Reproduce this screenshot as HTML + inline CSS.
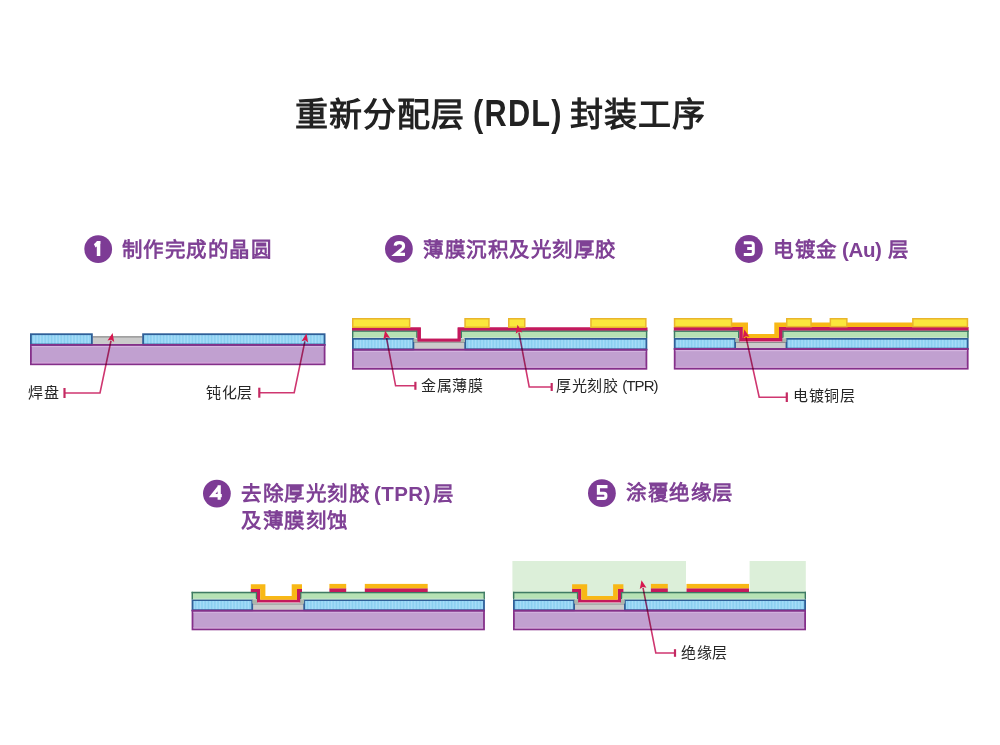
<!DOCTYPE html>
<html lang="zh-CN"><head><meta charset="utf-8">
<style>
html,body{margin:0;padding:0;background:#fff;}
body{width:1000px;height:745px;position:relative;overflow:hidden;font-family:"Liberation Sans",sans-serif;}
.t{position:absolute;white-space:nowrap;line-height:1;}
.title{font-size:33px;font-weight:bold;color:#222;letter-spacing:1.1px;}
.title.lat{font-size:37px;letter-spacing:1.5px;transform-origin:0 0;transform:scaleX(0.83);}
.hd{font-size:20.5px;font-weight:bold;color:#7f4195;letter-spacing:1.5px;}
.hd .lat{letter-spacing:1.15px;}
.lb{font-size:15px;color:#262626;letter-spacing:0.7px;}
.lb .lat{letter-spacing:-0.9px;margin-left:-1.5px;}
svg{position:absolute;left:0;top:0;}
</style></head><body>
<svg width="1000" height="745" viewBox="0 0 1000 745">
<defs>
<pattern id="stripes" patternUnits="userSpaceOnUse" width="3.2" height="10">
<rect width="3.2" height="10" fill="#97d6f5"/><rect x="0" width="0.9" height="10" fill="#88cdee"/><rect x="1.6" width="0.8" height="10" fill="#a8ddf8"/>
</pattern>
</defs>
<rect x="30.90" y="345.00" width="293.70" height="19.30" fill="#c1a0d0" stroke="#85308a" stroke-width="1.8"/>
<rect x="31.80" y="345.90" width="291.90" height="1.20" fill="#d5b5e0"/>
<rect x="31.80" y="362.00" width="291.90" height="1.40" fill="#cfa3d6"/>
<rect x="91.80" y="336.30" width="51.40" height="9.10" fill="#cbcbcb"/>
<line x1="92.8" y1="336.90000000000003" x2="142.2" y2="336.90000000000003" stroke="#8e8e8e" stroke-width="1.2"/>
<rect x="30.90" y="334.20" width="61.00" height="10.30" fill="url(#stripes)" stroke="#2f5f98" stroke-width="1.8"/>
<rect x="143.10" y="334.20" width="181.50" height="10.30" fill="url(#stripes)" stroke="#2f5f98" stroke-width="1.8"/>
<line x1="30" y1="344.9" x2="325.5" y2="344.9" stroke="#85308a" stroke-width="1.8"/>
<path d="M110.98,340.73 L100.00,393.00 L64.50,393.00" fill="none" stroke="#cf3670" stroke-width="1.6" stroke-linejoin="miter" style="mix-blend-mode:multiply"/>
<polygon points="112.60,333.00 107.55,340.52 111.18,339.75 114.20,341.92" fill="#d6184f"/>
<line x1="64.50" y1="388.00" x2="64.50" y2="398.00" stroke="#c42a62" stroke-width="2.2"/>
<path d="M304.89,341.33 L294.20,392.70 L259.30,392.70" fill="none" stroke="#cf3670" stroke-width="1.6" stroke-linejoin="miter" style="mix-blend-mode:multiply"/>
<polygon points="306.50,333.60 301.46,341.13 305.09,340.36 308.12,342.52" fill="#d6184f"/>
<line x1="259.30" y1="387.70" x2="259.30" y2="397.70" stroke="#c42a62" stroke-width="2.2"/>
<polygon points="352.00,327.60 420.80,327.60 420.80,338.80 457.70,338.80 457.70,327.60 647.30,327.60 647.30,331.00 460.80,331.00 460.80,341.80 417.40,341.80 417.40,331.00 352.00,331.00" fill="#c4195d"/>
<rect x="352.90" y="349.80" width="293.50" height="19.00" fill="#c1a0d0" stroke="#85308a" stroke-width="1.8"/>
<rect x="353.80" y="350.70" width="291.70" height="1.20" fill="#d5b5e0"/>
<rect x="353.80" y="366.50" width="291.70" height="1.40" fill="#cfa3d6"/>
<rect x="413.30" y="341.60" width="52.00" height="8.60" fill="#cbcbcb"/>
<line x1="414.3" y1="342.20000000000005" x2="464.3" y2="342.20000000000005" stroke="#8e8e8e" stroke-width="1.2"/>
<rect x="352.90" y="338.80" width="60.50" height="10.50" fill="url(#stripes)" stroke="#2f5f98" stroke-width="1.8"/>
<rect x="465.20" y="338.80" width="181.20" height="10.50" fill="url(#stripes)" stroke="#2f5f98" stroke-width="1.8"/>
<line x1="352" y1="349.7" x2="647.3" y2="349.7" stroke="#85308a" stroke-width="1.8"/>
<rect x="352.00" y="330.30" width="65.60" height="7.70" fill="#b6e2b4"/>
<rect x="352.00" y="330.30" width="65.60" height="1.50" fill="#3f7a64"/>
<rect x="352.00" y="330.30" width="1.40" height="7.70" fill="#3f7a64"/>
<rect x="416.20" y="330.30" width="1.40" height="7.70" fill="#3f7a64"/>
<rect x="353.40" y="337.00" width="62.80" height="1.00" fill="#c6e3cc"/>
<rect x="460.60" y="330.30" width="186.70" height="7.70" fill="#b6e2b4"/>
<rect x="460.60" y="330.30" width="186.70" height="1.50" fill="#3f7a64"/>
<rect x="460.60" y="330.30" width="1.40" height="7.70" fill="#3f7a64"/>
<rect x="645.90" y="330.30" width="1.40" height="7.70" fill="#3f7a64"/>
<rect x="462.00" y="337.00" width="183.90" height="1.00" fill="#c6e3cc"/>
<rect x="413.50" y="338.50" width="4.50" height="3.50" fill="#aab5aa"/>
<rect x="460.00" y="338.50" width="5.00" height="3.50" fill="#aab5aa"/>
<polygon points="352.00,327.60 420.80,327.60 420.80,338.80 457.70,338.80 457.70,327.60 647.30,327.60 647.30,330.50 460.80,330.50 460.80,341.60 417.40,341.60 417.40,330.50 352.00,330.50" fill="#c4195d"/>
<rect x="352.75" y="318.75" width="56.90" height="8.50" fill="#fbe63c" stroke="#e9b52c" stroke-width="1.5"/>
<rect x="465.05" y="318.75" width="23.90" height="8.50" fill="#fbe63c" stroke="#e9b52c" stroke-width="1.5"/>
<rect x="508.75" y="318.75" width="16.00" height="8.50" fill="#fbe63c" stroke="#e9b52c" stroke-width="1.5"/>
<rect x="590.95" y="318.75" width="54.90" height="8.50" fill="#fbe63c" stroke="#e9b52c" stroke-width="1.5"/>
<path d="M386.57,338.26 L395.60,385.80 L415.40,385.80" fill="none" stroke="#cf3670" stroke-width="1.6" stroke-linejoin="miter" style="mix-blend-mode:multiply"/>
<polygon points="385.10,330.50 383.33,339.39 386.39,337.28 390.01,338.12" fill="#d6184f"/>
<line x1="415.40" y1="381.80" x2="415.40" y2="389.80" stroke="#c42a62" stroke-width="2.2"/>
<path d="M518.96,332.56 L529.20,387.00 L551.70,387.00" fill="none" stroke="#cf3670" stroke-width="1.6" stroke-linejoin="miter" style="mix-blend-mode:multiply"/>
<polygon points="517.50,324.80 515.71,333.68 518.78,331.58 522.39,332.43" fill="#d6184f"/>
<line x1="551.70" y1="383.00" x2="551.70" y2="391.00" stroke="#c42a62" stroke-width="2.2"/>
<rect x="674.70" y="349.10" width="293.00" height="19.60" fill="#c1a0d0" stroke="#85308a" stroke-width="1.8"/>
<rect x="675.60" y="350.00" width="291.20" height="1.20" fill="#d5b5e0"/>
<rect x="675.60" y="366.40" width="291.20" height="1.40" fill="#cfa3d6"/>
<rect x="735.00" y="341.90" width="51.60" height="7.60" fill="#cbcbcb"/>
<line x1="736.0" y1="342.5" x2="785.6" y2="342.5" stroke="#8e8e8e" stroke-width="1.2"/>
<rect x="674.70" y="338.80" width="60.40" height="9.80" fill="url(#stripes)" stroke="#2f5f98" stroke-width="1.8"/>
<rect x="786.50" y="338.80" width="181.20" height="9.80" fill="url(#stripes)" stroke="#2f5f98" stroke-width="1.8"/>
<line x1="673.8" y1="349.0" x2="968.6" y2="349.0" stroke="#85308a" stroke-width="1.8"/>
<rect x="673.80" y="330.40" width="65.60" height="7.60" fill="#b6e2b4"/>
<rect x="673.80" y="330.40" width="65.60" height="1.50" fill="#3f7a64"/>
<rect x="673.80" y="330.40" width="1.40" height="7.60" fill="#3f7a64"/>
<rect x="738.00" y="330.40" width="1.40" height="7.60" fill="#3f7a64"/>
<rect x="675.20" y="337.00" width="62.80" height="1.00" fill="#c6e3cc"/>
<rect x="782.20" y="330.40" width="186.40" height="7.60" fill="#b6e2b4"/>
<rect x="782.20" y="330.40" width="186.40" height="1.50" fill="#3f7a64"/>
<rect x="782.20" y="330.40" width="1.40" height="7.60" fill="#3f7a64"/>
<rect x="967.20" y="330.40" width="1.40" height="7.60" fill="#3f7a64"/>
<rect x="783.60" y="337.00" width="183.60" height="1.00" fill="#c6e3cc"/>
<rect x="735.20" y="338.20" width="4.80" height="3.80" fill="#aab5aa"/>
<rect x="781.50" y="338.20" width="4.90" height="3.80" fill="#aab5aa"/>
<polygon points="732.00,322.40 748.00,322.40 748.00,334.00 774.30,334.00 774.30,322.40 967.60,322.40 967.60,327.30 779.00,327.30 779.00,338.20 742.60,338.20 742.60,327.30 732.00,327.30" fill="#f8b816"/>
<polygon points="673.80,327.00 742.80,327.00 742.80,338.10 779.00,338.10 779.00,327.00 968.60,327.00 968.60,330.60 782.30,330.60 782.30,341.60 739.30,341.60 739.30,330.60 673.80,330.60" fill="#c4195d"/>
<rect x="674.55" y="318.75" width="57.00" height="7.90" fill="#fbe63c" stroke="#e9b52c" stroke-width="1.5"/>
<rect x="786.75" y="318.75" width="24.30" height="7.90" fill="#fbe63c" stroke="#e9b52c" stroke-width="1.5"/>
<rect x="830.35" y="318.75" width="16.50" height="7.90" fill="#fbe63c" stroke="#e9b52c" stroke-width="1.5"/>
<rect x="912.85" y="318.75" width="54.60" height="7.90" fill="#fbe63c" stroke="#e9b52c" stroke-width="1.5"/>
<path d="M746.00,337.12 L759.20,397.20 L786.80,397.20" fill="none" stroke="#cf3670" stroke-width="1.6" stroke-linejoin="miter" style="mix-blend-mode:multiply"/>
<polygon points="744.30,329.40 742.78,338.33 745.78,336.14 749.42,336.87" fill="#d6184f"/>
<line x1="786.80" y1="392.40" x2="786.80" y2="402.00" stroke="#c42a62" stroke-width="2.2"/>
<rect x="192.50" y="610.70" width="291.50" height="18.70" fill="#c1a0d0" stroke="#85308a" stroke-width="1.8"/>
<rect x="193.40" y="611.60" width="289.70" height="1.20" fill="#d5b5e0"/>
<rect x="193.40" y="627.10" width="289.70" height="1.40" fill="#cfa3d6"/>
<rect x="252.10" y="603.40" width="52.20" height="7.70" fill="#cbcbcb"/>
<line x1="253.1" y1="604.0" x2="303.3" y2="604.0" stroke="#8e8e8e" stroke-width="1.2"/>
<rect x="192.50" y="600.10" width="59.70" height="10.10" fill="url(#stripes)" stroke="#2f5f98" stroke-width="1.8"/>
<rect x="304.20" y="600.10" width="179.80" height="10.10" fill="url(#stripes)" stroke="#2f5f98" stroke-width="1.8"/>
<line x1="191.6" y1="610.6" x2="484.9" y2="610.6" stroke="#85308a" stroke-width="1.8"/>
<rect x="191.60" y="591.80" width="65.60" height="7.50" fill="#b6e2b4"/>
<rect x="191.60" y="591.80" width="65.60" height="1.50" fill="#3f7a64"/>
<rect x="191.60" y="591.80" width="1.40" height="7.50" fill="#3f7a64"/>
<rect x="255.80" y="591.80" width="1.40" height="7.50" fill="#3f7a64"/>
<rect x="193.00" y="598.30" width="62.80" height="1.00" fill="#c6e3cc"/>
<rect x="300.00" y="591.80" width="184.90" height="7.50" fill="#b6e2b4"/>
<rect x="300.00" y="591.80" width="184.90" height="1.50" fill="#3f7a64"/>
<rect x="300.00" y="591.80" width="1.40" height="7.50" fill="#3f7a64"/>
<rect x="483.50" y="591.80" width="1.40" height="7.50" fill="#3f7a64"/>
<rect x="301.40" y="598.30" width="182.10" height="1.00" fill="#c6e3cc"/>
<rect x="252.30" y="599.40" width="5.20" height="4.20" fill="#aab5aa"/>
<rect x="299.70" y="599.40" width="4.40" height="4.20" fill="#aab5aa"/>
<polygon points="250.80,588.80 260.20,588.80 260.20,599.60 297.00,599.60 297.00,588.80 302.00,588.80 302.00,592.00 300.20,592.00 300.20,602.40 257.00,602.40 257.00,592.00 250.80,592.00" fill="#c4195d"/>
<polygon points="250.80,584.20 265.40,584.20 265.40,595.90 291.70,595.90 291.70,584.20 302.00,584.20 302.00,588.90 297.00,588.90 297.00,599.70 260.20,599.70 260.20,588.90 250.80,588.90" fill="#f8b816"/>
<rect x="329.40" y="583.90" width="16.80" height="4.80" fill="#f8b816"/>
<rect x="329.40" y="588.50" width="16.80" height="3.50" fill="#c4195d"/>
<rect x="364.80" y="583.90" width="62.90" height="4.80" fill="#f8b816"/>
<rect x="364.80" y="588.50" width="62.90" height="3.50" fill="#c4195d"/>
<rect x="512.40" y="561.00" width="173.60" height="37.00" fill="#dcefd9"/>
<rect x="749.60" y="561.00" width="56.20" height="32.00" fill="#dcefd9"/>
<rect x="513.90" y="610.70" width="291.20" height="18.70" fill="#c1a0d0" stroke="#85308a" stroke-width="1.8"/>
<rect x="514.80" y="611.60" width="289.40" height="1.20" fill="#d5b5e0"/>
<rect x="514.80" y="627.10" width="289.40" height="1.40" fill="#cfa3d6"/>
<rect x="574.00" y="603.40" width="51.00" height="7.70" fill="#cbcbcb"/>
<line x1="575.0" y1="604.0" x2="624.0" y2="604.0" stroke="#8e8e8e" stroke-width="1.2"/>
<rect x="513.90" y="600.10" width="60.20" height="10.10" fill="url(#stripes)" stroke="#2f5f98" stroke-width="1.8"/>
<rect x="624.90" y="600.10" width="180.20" height="10.10" fill="url(#stripes)" stroke="#2f5f98" stroke-width="1.8"/>
<line x1="513.0" y1="610.6" x2="806.0" y2="610.6" stroke="#85308a" stroke-width="1.8"/>
<rect x="513.00" y="591.80" width="65.30" height="7.50" fill="#b6e2b4"/>
<rect x="513.00" y="591.80" width="65.30" height="1.50" fill="#3f7a64"/>
<rect x="513.00" y="591.80" width="1.40" height="7.50" fill="#3f7a64"/>
<rect x="576.90" y="591.80" width="1.40" height="7.50" fill="#3f7a64"/>
<rect x="514.40" y="598.30" width="62.50" height="1.00" fill="#c6e3cc"/>
<rect x="620.80" y="591.80" width="185.20" height="7.50" fill="#b6e2b4"/>
<rect x="620.80" y="591.80" width="185.20" height="1.50" fill="#3f7a64"/>
<rect x="620.80" y="591.80" width="1.40" height="7.50" fill="#3f7a64"/>
<rect x="804.60" y="591.80" width="1.40" height="7.50" fill="#3f7a64"/>
<rect x="622.20" y="598.30" width="182.40" height="1.00" fill="#c6e3cc"/>
<rect x="574.20" y="599.40" width="4.40" height="4.20" fill="#aab5aa"/>
<rect x="620.50" y="599.40" width="4.30" height="4.20" fill="#aab5aa"/>
<polygon points="572.10,588.80 581.30,588.80 581.30,599.60 617.80,599.60 617.80,588.80 623.40,588.80 623.40,592.00 621.00,592.00 621.00,602.40 578.10,602.40 578.10,592.00 572.10,592.00" fill="#c4195d"/>
<polygon points="572.10,584.20 587.20,584.20 587.20,595.90 613.10,595.90 613.10,584.20 623.40,584.20 623.40,588.90 617.80,588.90 617.80,599.70 581.30,599.70 581.30,588.90 572.10,588.90" fill="#f8b816"/>
<rect x="650.90" y="583.90" width="16.90" height="4.80" fill="#f8b816"/>
<rect x="650.90" y="588.50" width="16.90" height="3.50" fill="#c4195d"/>
<rect x="686.50" y="583.90" width="62.50" height="4.80" fill="#f8b816"/>
<rect x="686.50" y="588.50" width="62.50" height="3.50" fill="#c4195d"/>
<path d="M643.02,587.95 L655.80,653.00 L675.00,653.00" fill="none" stroke="#cf3670" stroke-width="1.6" stroke-linejoin="miter" style="mix-blend-mode:multiply"/>
<polygon points="641.50,580.20 639.78,589.10 642.83,586.97 646.46,587.79" fill="#d6184f"/>
<line x1="675.00" y1="649.20" x2="675.00" y2="656.80" stroke="#c42a62" stroke-width="2.2"/>
<circle cx="98.2" cy="249.1" r="13.9" fill="#7d3b95"/>
<circle cx="398.9" cy="248.9" r="13.9" fill="#7d3b95"/>
<circle cx="748.9" cy="249.0" r="13.9" fill="#7d3b95"/>
<circle cx="216.9" cy="493.6" r="13.9" fill="#7d3b95"/>
<circle cx="601.9" cy="493.2" r="13.9" fill="#7d3b95"/>
<polygon points="96.8,241 100.3,241 100.3,256 96.8,256" fill="#fff"/>
<polygon points="93.9,244.3 97.2,241 100.3,241 100.3,243.8 95.6,247.6" fill="#fff"/>
<path d="M395.2,245.6 Q395.4,242.6 399.4,242.6 Q403.6,242.6 403.6,245.9 Q403.6,248.2 400.6,250.3 L395.6,254.4 L405,254.4" fill="none" stroke="#fff" stroke-width="3.1" stroke-linejoin="miter"/>
<path d="M743.8,242.8 L751.2,242.8 Q753.3,242.8 753.3,245 L753.3,252.2 Q753.3,254.4 751.2,254.4 L743.8,254.4 M747.2,248.6 L753,248.6" fill="none" stroke="#fff" stroke-width="3.0"/>
<path d="M219.4,486.6 L212.2,495.6 L221.8,495.6 M219.2,485.3 L219.2,499.7" fill="none" stroke="#fff" stroke-width="3.2" stroke-linejoin="miter"/>
<path d="M607.5,486.6 L598.4,486.6 L598.4,493.2 L603.9,493.2 Q605.9,493.2 605.9,495.4 L605.9,496.3 Q605.9,498.4 603.8,498.4 L596.8,498.4" fill="none" stroke="#fff" stroke-width="3.1" stroke-linejoin="miter"/>
</svg>
<div class="t title" style="left:295px;top:97.5px;">重新分配层</div>
<div class="t title lat" style="left:473px;top:95px;">(RDL)</div>
<div class="t title" style="left:570px;top:97.5px;">封装工序</div>
<div class="t hd" style="left:121.5px;top:240px;">制作完成的晶圆</div>
<div class="t hd" style="left:423px;top:240px;">薄膜沉积及光刻厚胶</div>
<div class="t hd" style="left:773px;top:240px;">电镀金<span class="lat" style="margin-left:4.5px;letter-spacing:-0.35px">(Au)</span><span style="margin-left:6.5px">层</span></div>
<div class="t hd" style="left:241px;top:484px;">去除厚光刻胶<span class="lat" style="margin-left:4px;letter-spacing:0.45px">(TPR)</span><span style="margin-left:2px">层</span></div>
<div class="t hd" style="left:241px;top:511px;">及薄膜刻蚀</div>
<div class="t hd" style="left:626px;top:483px;">涂覆绝缘层</div>
<div class="t lb" style="left:28px;top:385px;">焊盘</div>
<div class="t lb" style="left:206px;top:385px;">钝化层</div>
<div class="t lb" style="left:421px;top:378px;">金属薄膜</div>
<div class="t lb" style="left:556px;top:378px;">厚光刻胶 <span class="lat">(TPR)</span></div>
<div class="t lb" style="left:793px;top:388px;">电镀铜层</div>
<div class="t lb" style="left:681px;top:645px;">绝缘层</div>
</body></html>
